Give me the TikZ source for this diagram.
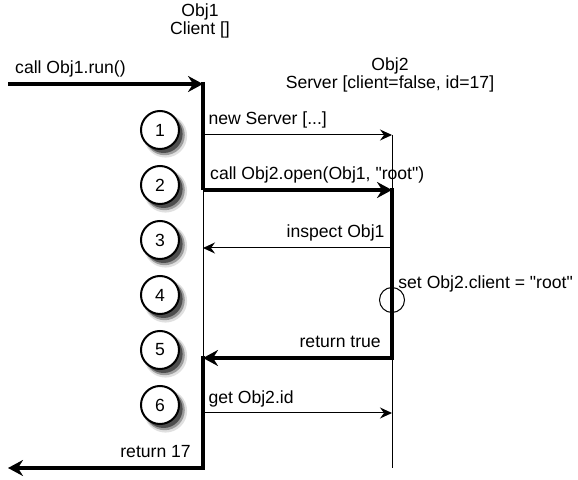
\documentclass[tikz,border=0pt]{standalone}
\usepackage{fontspec}
\setmainfont{Liberation Sans}[Ligatures=TeXOff]
\usetikzlibrary{arrows.meta,shadows}

\tikzset{
  msg/.style={line width=.5pt, -{Stealth[length=6pt,width=5.5pt,inset=2pt]}},
  bigmsg/.style={line width=2.2pt, -{Stealth[length=7.5pt,width=8pt,inset=2.5pt]}},
  act/.style={line width=2.2pt},
  life/.style={line width=.5pt},
  step num/.style={circle, draw, fill=white, line width=1pt, minimum size=19pt, inner sep=0pt,
    general shadow={shadow xshift=2.4pt, shadow yshift=-2.6pt, shadow scale=1.14, fill=black, opacity=.12},
    general shadow={shadow xshift=2.2pt, shadow yshift=-2.4pt, shadow scale=1.06, fill=black, opacity=.3},
    general shadow={shadow xshift=1.8pt, shadow yshift=-2pt, fill=black, opacity=.5}},
  lbl/.style={inner sep=0pt, anchor=base west, xshift=2.5pt, yshift=5pt},
  rlbl/.style={inner sep=0pt, anchor=base east, xshift=-3.5pt, yshift=5pt}
}

\begin{document}
\begin{tikzpicture}[font=\fontsize{8.8}{10}\selectfont]
    \def\x{.5pt}
    \def\y{-.5pt}
    \useasboundingbox (0,0) rectangle (578*\x, 480*\y);
    % objects
    \node (T1_a) at (200*\x, 12*\y) {Obj1};
    \node (T1_b) at (200*\x, 30*\y) {Client []};
    \node (T2_a) at (390*\x, 66*\y) {Obj2};
    \node (T2_b) at (390*\x, 84*\y) {Server [client=false, id=17]};
    % event points
    \coordinate (A0_0) at (8*\x, 84*\y);
    \coordinate (A0_1) at (203*\x, 84*\y);
    \coordinate (A1_1) at (203*\x, 135*\y);
    \coordinate (A1_2) at (392*\x, 135*\y);
    \coordinate (A2_1) at (203*\x, 190*\y);
    \coordinate (A2_2) at (392*\x, 190*\y);
    \coordinate (A3_1) at (203*\x, 248*\y);
    \coordinate (A3_2) at (392*\x, 248*\y);
    \coordinate (A5_1) at (203*\x, 358*\y);
    \coordinate (A5_2) at (392*\x, 358*\y);
    \coordinate (A6_1) at (203*\x, 413*\y);
    \coordinate (A6_2) at (392*\x, 413*\y);
    \coordinate (A7_0) at (8*\x, 468*\y);
    \coordinate (A7_1) at (203*\x, 468*\y);
    \coordinate (A7_2) at (392*\x, 468*\y);
    % lifelines and activations
    \path (A2_1) edge [life] (A5_1);
    \path (A1_2) edge [life] (A7_2);
    \draw [act] ([yshift=1pt]A0_1) -- (A2_1);
    \draw [act] ([yshift=1pt]A2_2) -- ([yshift=-1.1pt]A5_2);
    \draw [act] ([yshift=1.1pt]A5_1) -- ([yshift=-1.1pt]A7_1);
    \node (A4_2) [circle, draw, line width=.5pt, minimum size=12.5pt, inner sep=0pt] at (392*\x, 300*\y) {};
    % messages
    \path (A0_0) edge [bigmsg] node [lbl, pos=0] {call Obj1.run()} (A0_1);
    \path (A1_1) edge [msg] node [lbl, pos=0] {new Server [...]} (A1_2);
    \path (A2_1) edge [bigmsg] node [lbl, pos=0] {call Obj2.open(Obj1, "root")} (A2_2);
    \path (A3_2) edge [msg] node [rlbl, pos=0] {inspect Obj1} (A3_1);
    \node (A4_3) [anchor=west, inner sep=0pt] at (398*\x, 284*\y) {set Obj2.client = "root"};
    \path (A5_2) edge [bigmsg] node [rlbl, pos=0, xshift=-1pt] {return true} (A5_1);
    \path (A6_1) edge [msg] node [lbl, pos=0] {get Obj2.id} (A6_2);
    \path (A7_1) edge [bigmsg] node [rlbl, pos=0, xshift=-1.5pt] {return 17} (A7_0);
    % steps
    \node (S1) [step num] at (160*\x, 130*\y) {1};
    \node (S2) [step num] at (160*\x, 185*\y) {2};
    \node (S3) [step num] at (160*\x, 240*\y) {3};
    \node (S4) [step num] at (160*\x, 295*\y) {4};
    \node (S5) [step num] at (160*\x, 350*\y) {5};
    \node (S6) [step num] at (160*\x, 405*\y) {6};
  \end{tikzpicture}
\end{document}
